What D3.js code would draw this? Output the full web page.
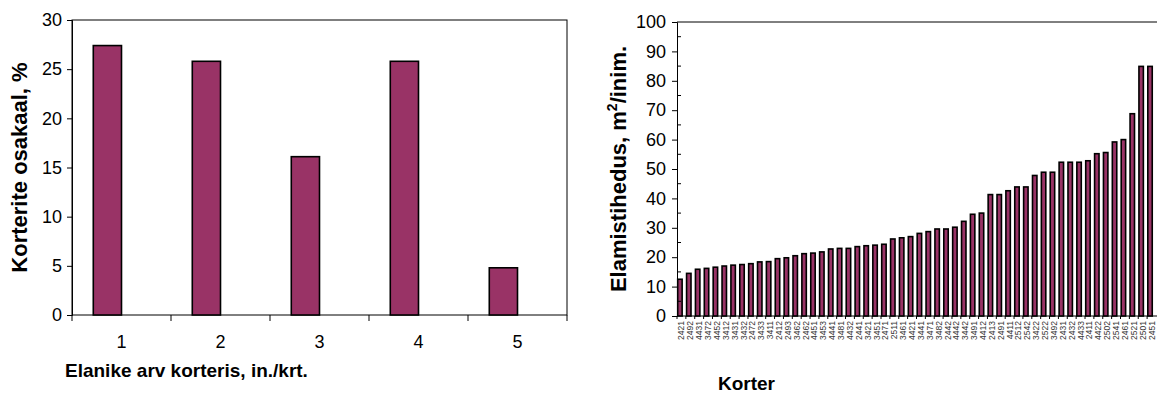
<!DOCTYPE html>
<html>
<head>
<meta charset="utf-8">
<script src="https://cdn.jsdelivr.net/npm/d3@7"></script>
<style>
  html, body { margin: 0; padding: 0; background: #fff; }
  svg { display: block; font-family: "Liberation Sans", Arial, sans-serif; }
</style>
</head>
<body>
<svg id="chart" width="1157" height="396"></svg>
<script>
// Share of flats by number of residents
const residentCounts = ["1", "2", "3", "4", "5"];
const flatShare = [27.4, 25.8, 16.1, 25.8, 4.8];
const shareTicks = [0, 5, 10, 15, 20, 25, 30];

// Living space per resident, by flat code (sorted ascending)
const flatCodes = [
  "2421", "2492", "4431", "3472", "4452", "3412", "3431", "3432", "2472", "3433",
  "3411", "2412", "2493", "3462", "2462", "4451", "3453", "4441", "3481", "4432",
  "2441", "3421", "3451", "2471", "2511", "3461", "4421", "3441", "3471", "3482",
  "2442", "4442", "3442", "3491", "4412", "2413", "2491", "4411", "2512", "2542",
  "3422", "2522", "3492", "2431", "2432", "4433", "2411", "4422", "2502", "2541",
  "2461", "2521", "2501", "2451"
];
const spacePerResident = [
  12.5, 14.5, 15.9, 16.2, 16.6, 17.0, 17.3, 17.5, 17.8, 18.4,
  18.5, 19.5, 19.8, 20.5, 21.2, 21.4, 21.8, 22.8, 23.0, 23.0,
  23.6, 23.9, 24.1, 24.4, 26.2, 26.6, 27.0, 28.1, 28.7, 29.6,
  29.6, 30.2, 32.2, 34.6, 35.0, 41.3, 41.3, 42.6, 43.9, 43.9,
  47.8, 48.9, 48.9, 52.3, 52.3, 52.3, 52.8, 55.2, 55.6, 59.2,
  60.0, 68.8, 84.9, 84.9
];
const spaceTicks = [0, 10, 20, 30, 40, 50, 60, 70, 80, 90, 100];
const spaceMinorTicks = [5, 15, 25, 35, 45, 55, 65, 75, 85, 95];

const BAR_FILL = "#993366";
const TICK_FONT = 18;
const TITLE_X_FONT = 19;
const TITLE_Y_FONT = 22;
const svg = d3.select("#chart");

// ---------- Left chart ----------
{
  const L = 72, R = 567, T = 20, B = 315;
  const x = d3.scaleBand().domain(residentCounts).range([L, R]);
  const y = d3.scaleLinear().domain([0, 30]).range([B, T]);
  const g = svg.append("g");

  g.append("rect").attr("x", L).attr("y", T).attr("width", R - L).attr("height", B - T)
    .attr("fill", "none").attr("stroke", "#000").attr("stroke-width", 1);

  g.selectAll("rect.bar").data(flatShare).join("rect")
    .attr("class", "bar")
    .attr("x", (d, i) => x(residentCounts[i]) + x.bandwidth() * 0.215)
    .attr("width", x.bandwidth() * 0.285)
    .attr("y", d => y(d))
    .attr("height", d => B - y(d))
    .attr("fill", BAR_FILL).attr("stroke", "#000").attr("stroke-width", 1.6);

  const ya = g.append("g").attr("transform", `translate(${L},0)`)
    .call(d3.axisLeft(y).tickValues(shareTicks).tickSize(5).tickPadding(5));
  ya.select(".domain").attr("stroke", "#000");
  ya.selectAll("text").attr("font-size", TICK_FONT).attr("fill", "#000")
    .attr("font-family", "Liberation Sans, Arial, sans-serif");

  // category tick marks sit on band edges
  const edges = residentCounts.map(c => x(c)).concat([R]);
  g.selectAll("line.xt").data(edges).join("line")
    .attr("x1", d => d).attr("x2", d => d).attr("y1", B).attr("y2", B + 6)
    .attr("stroke", "#000");
  g.selectAll("text.xl").data(residentCounts).join("text")
    .attr("x", d => x(d) + x.bandwidth() / 2).attr("y", B + 33)
    .attr("text-anchor", "middle").attr("font-size", TICK_FONT).text(d => d);

  g.append("text").attr("x", 65).attr("y", 377).attr("font-size", TITLE_X_FONT)
    .attr("font-weight", "bold").text("Elanike arv korteris, in./krt.");
  g.append("text").attr("transform", `translate(27,${(T + B) / 2}) rotate(-90)`)
    .attr("text-anchor", "middle").attr("font-size", TITLE_Y_FONT).attr("font-weight", "bold")
    .text("Korterite osakaal, %");
}

// ---------- Right chart ----------
{
  const L = 677, T = 22, B = 316, step = 8.87;
  const R = L + step * flatCodes.length;
  const x = d3.scaleBand().domain(flatCodes).range([L, R]);
  const y = d3.scaleLinear().domain([0, 100]).range([B, T]);
  const g = svg.append("g");

  // plot frame: top border and baseline run on past the right edge
  g.append("line").attr("x1", L).attr("x2", 1157 + 5).attr("y1", T).attr("y2", T).attr("stroke", "#000");
  g.append("line").attr("x1", L).attr("x2", 1157 + 5).attr("y1", B).attr("y2", B).attr("stroke", "#000");

  g.selectAll("rect.bar").data(spacePerResident).join("rect")
    .attr("class", "bar")
    .attr("x", (d, i) => x(flatCodes[i]) + 0.7)
    .attr("width", x.bandwidth() * 0.5)
    .attr("y", d => y(d))
    .attr("height", d => B - y(d))
    .attr("fill", BAR_FILL).attr("stroke", "#000").attr("stroke-width", 1.6);

  const ya = g.append("g").attr("transform", `translate(${L},0)`)
    .call(d3.axisLeft(y).tickValues(spaceTicks).tickSize(5).tickPadding(6));
  ya.select(".domain").attr("stroke", "#000");
  ya.selectAll("text").attr("font-size", TICK_FONT).attr("fill", "#000")
    .attr("font-family", "Liberation Sans, Arial, sans-serif");
  g.selectAll("line.minor").data(spaceMinorTicks).join("line")
    .attr("x1", L).attr("x2", L + 4).attr("y1", d => y(d)).attr("y2", d => y(d))
    .attr("stroke", "#000");

  const edges = flatCodes.map(c => x(c));
  g.selectAll("line.xt").data(edges).join("line")
    .attr("x1", d => d).attr("x2", d => d).attr("y1", B).attr("y2", B + 3)
    .attr("stroke", "#000");
  g.selectAll("text.xl").data(flatCodes).join("text")
    .attr("transform", d => `translate(${x(d) + x.bandwidth() / 2},${B + 5}) rotate(-90)`)
    .attr("text-anchor", "end").attr("dominant-baseline", "central")
    .attr("font-size", 8.5).attr("fill", "#333").text(d => d);

  g.append("text").attr("x", 718).attr("y", 390).attr("font-size", TITLE_X_FONT)
    .attr("font-weight", "bold").text("Korter");
  const yt = g.append("text").attr("transform", `translate(626,${(T + B) / 2}) rotate(-90)`)
    .attr("text-anchor", "middle").attr("font-size", TITLE_Y_FONT).attr("font-weight", "bold");
  yt.append("tspan").text("Elamistihedus, m");
  yt.append("tspan").attr("font-size", 14).attr("dy", -9).text("2");
  yt.append("tspan").attr("dy", 9).text("/inim.");
}
</script>
</body>
</html>
